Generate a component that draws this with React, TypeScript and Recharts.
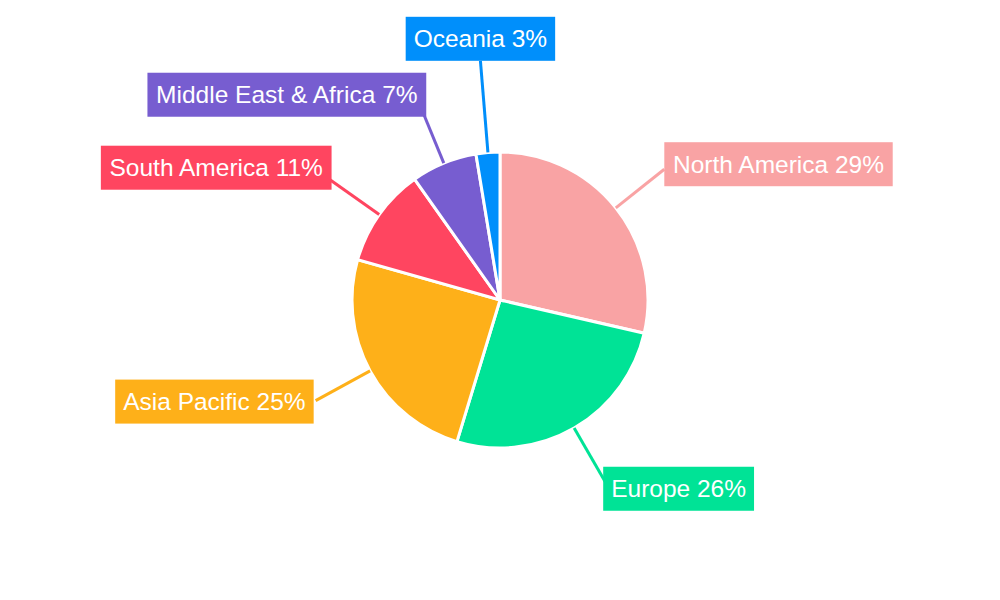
import React from 'react';
import { PieChart, Pie, Cell } from 'recharts';

const regions = ['North America', 'Europe', 'Asia Pacific', 'South America', 'Middle East & Africa', 'Oceania'];
const shares = [28.6, 26.1, 24.7, 10.8, 7.2, 2.6];
const colors = ['#F9A3A4', '#00E396', '#FEB019', '#FF4560', '#775DD0', '#008FFB'];

const data = regions.map((name, i) => ({ name, value: shares[i] }));

const FONT = '"Liberation Sans", Arial, sans-serif';
const FONT_SIZE = 24.5;
const RAD = Math.PI / 180;

let ctx: CanvasRenderingContext2D | null = null;
function textWidth(t: string): number {
  if (!ctx) {
    const c = document.createElement('canvas');
    ctx = c.getContext('2d');
  }
  if (!ctx) return t.length * FONT_SIZE * 0.5;
  ctx.font = `${FONT_SIZE}px ${FONT}`;
  return ctx.measureText(t).width;
}

// small label-layout nudges (label collision adjustments)
const labelExtraRadius: Record<string, number> = { Oceania: 30 };
const labelNudge: Record<string, { dx: number; dy: number }> = {
  'Middle East & Africa': { dx: 6, dy: 0 },
  'South America': { dx: 3, dy: 0 },
  'Asia Pacific': { dx: -2, dy: 0 },
  Europe: { dx: -2, dy: 0 },
};

const renderLabel = (props: any) => {
  const { cx, cy, midAngle, outerRadius, percent, name, index } = props;
  const color = colors[index % colors.length];
  const cos = Math.cos(-midAngle * RAD);
  const sin = Math.sin(-midAngle * RAD);
  const sx = cx + outerRadius * cos;
  const sy = cy + outerRadius * sin;
  const r = outerRadius + 62 + (labelExtraRadius[name] || 0);
  const ex = cx + r * cos;
  const ey = cy + r * sin;
  const text = `${name} ${Math.round(percent * 100)}%`;
  const tw = textWidth(text);
  const padX = 8;
  const h = 44;
  const w = tw + padX * 2;
  let bx: number;
  let by: number;
  const nudge = labelNudge[name] || { dx: 0, dy: 0 };
  if (Math.abs(cos) < 0.2) {
    bx = ex - w / 2;
    by = sin < 0 ? ey - h : ey;
  } else {
    bx = cos > 0 ? ex : ex - w;
    const shift = (sin < 0 ? -5 : 7) + (cos < 0 ? -6 : 0);
    by = ey + shift - h / 2;
  }
  bx += nudge.dx;
  by += nudge.dy;
  return (
    <g key={`lbl-${index}`}>
      <line x1={sx} y1={sy} x2={ex} y2={ey} stroke={color} strokeWidth={3} />
      <rect x={bx} y={by} width={w} height={h} fill={color} />
      <text
        x={bx + w / 2}
        y={by + h / 2}
        textAnchor="middle"
        dominantBaseline="central"
        fill="#ffffff"
        fontFamily={FONT}
        fontSize={FONT_SIZE}
      >
        {text}
      </text>
    </g>
  );
};

export default function App() {
  return (
    <div style={{ position: 'absolute', left: 0, top: 0, width: 1000, height: 600, background: '#fff' }}>
      <PieChart width={1000} height={600} margin={{ top: 0, right: 0, bottom: 0, left: 0 }}>
        <Pie
          data={data}
          dataKey="value"
          nameKey="name"
          cx={500}
          cy={300}
          outerRadius={148}
          startAngle={90}
          endAngle={-270}
          stroke="#ffffff"
          strokeWidth={3}
          label={renderLabel}
          labelLine={false}
          isAnimationActive={false}
        >
          {data.map((d, i) => (
            <Cell key={d.name} fill={colors[i]} />
          ))}
        </Pie>
      </PieChart>
    </div>
  );
}
